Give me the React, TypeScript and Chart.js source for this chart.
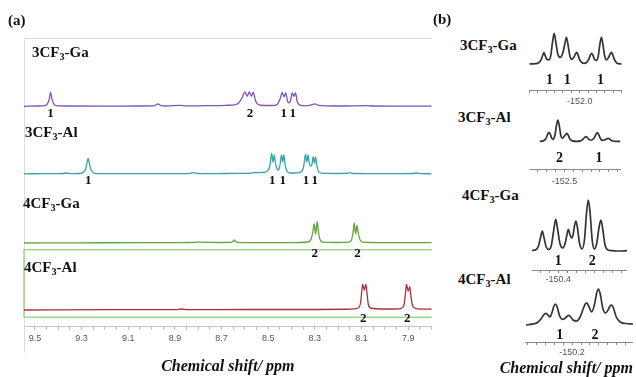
import React, { useEffect, useRef } from 'react';
import { Chart, registerables } from 'chart.js';
Chart.register(...registerables);

type P = [number, number];

// ---------- Panel (a): 1H spectra, [ppm, intensity above own baseline] ----------
const ga3Spectrum: P[] = [
  [9.547, 0], [9.49, 0.3], [9.458, 0.6], [9.447, 2.5], [9.439, 7], [9.433, 14], [9.427, 7], [9.419, 2.5], [9.408, 0.6],
  [9.37, 0.3], [9.2, 0.2], [9.05, 0.3], [8.99, 0.4], [8.981, 1.5], [8.973, 2.5], [8.962, 1], [8.94, 0.3], [8.88, 0.9],
  [8.85, 0.4], [8.76, 0.6], [8.68, 1], [8.645, 1.5], [8.628, 3], [8.612, 8.5], [8.600, 14.5], [8.590, 10], [8.581, 14.5],
  [8.572, 10], [8.564, 14], [8.555, 6], [8.545, 2], [8.52, 0.8], [8.47, 1], [8.458, 3], [8.448, 8], [8.440, 14],
  [8.432, 9.5], [8.425, 13.5], [8.417, 5], [8.411, 3.5], [8.405, 5], [8.397, 13.5], [8.390, 10], [8.383, 13.5],
  [8.376, 5], [8.366, 1.5], [8.34, 0.5], [8.315, 1.5], [8.300, 2.5], [8.285, 1], [8.2, 0.3], [8.075, 0.7],
  [8.055, 0.3], [7.95, 0.2], [7.799, 0.1],
];
const al3Spectrum: P[] = [
  [9.547, 0.2], [9.45, 0.3], [9.38, 0.5], [9.364, 1], [9.345, 0.4], [9.31, 0.5], [9.293, 1.5], [9.283, 5], [9.278, 10],
  [9.272, 15.7], [9.266, 10], [9.261, 5], [9.251, 1.5], [9.235, 0.4], [9.1, 0.3], [8.95, 0.3], [8.84, 0.4], [8.821, 1.3],
  [8.80, 0.4], [8.70, 0.5], [8.62, 0.6], [8.575, 0.8], [8.557, 1.5], [8.535, 1.3], [8.515, 1.8], [8.500, 4], [8.492, 9],
  [8.485, 20.5], [8.4795, 12], [8.474, 19], [8.469, 11], [8.462, 5], [8.458, 4], [8.453, 5.5], [8.448, 11], [8.443, 19],
  [8.438, 12], [8.433, 19], [8.428, 10], [8.420, 3], [8.405, 1], [8.375, 1.2], [8.355, 3], [8.347, 9], [8.340, 19.5],
  [8.3345, 12], [8.329, 19], [8.324, 11], [8.318, 8], [8.312, 10], [8.307, 17.3], [8.302, 11], [8.297, 17], [8.292, 9],
  [8.284, 2.5], [8.27, 0.8], [8.2, 0.5], [8.163, 0.6], [8.150, 1.3], [8.135, 0.5], [8.0, 0.3], [7.88, 0.5], [7.864, 1],
  [7.845, 0.4], [7.799, 0.2],
];
const ga4Spectrum: P[] = [
  [9.547, 0], [9.3, 0.2], [9.0, 0.4], [8.9, 0.3], [8.84, 0.5], [8.80, 0.8], [8.70, 0.5], [8.66, 0.6], [8.652, 1.5],
  [8.646, 3], [8.640, 1.5], [8.63, 0.6], [8.55, 0.3], [8.40, 0.4], [8.33, 1], [8.316, 4], [8.308, 12], [8.303, 19.3],
  [8.2965, 9], [8.290, 21.7], [8.285, 12], [8.277, 3], [8.265, 0.8], [8.2, 0.5], [8.155, 0.8], [8.143, 3], [8.136, 11],
  [8.131, 20], [8.125, 9], [8.119, 17.7], [8.114, 10], [8.106, 3], [8.095, 0.8], [8.0, 0.3], [7.9, 0.4], [7.799, 0.3],
];
const al4Spectrum: P[] = [
  [9.547, 0], [9.2, 0.3], [8.9, 0.4], [8.869, 1], [8.85, 0.4], [8.6, 0.5], [8.3, 0.5], [8.15, 0.8], [8.115, 2],
  [8.105, 6], [8.099, 18], [8.095, 25.7], [8.088, 20], [8.081, 25.7], [8.077, 18], [8.071, 6], [8.061, 2], [8.0, 1],
  [7.94, 1.2], [7.927, 2], [7.917, 6], [7.911, 18], [7.907, 25.7], [7.900, 19], [7.893, 23.3], [7.889, 16], [7.883, 6],
  [7.873, 2], [7.84, 0.8], [7.799, 1],
];

const ga3PeakPpm = [9.433, 8.578, 8.433, 8.395];
const ga3PeakText = ['1', '2', '1', '1'];
const al3PeakPpm = [9.272, 8.483, 8.438, 8.338, 8.300];
const al3PeakText = ['1', '1', '1', '1', '1'];
const ga4PeakPpm = [8.300, 8.117];
const ga4PeakText = ['2', '2'];
const al4PeakPpm = [8.093, 7.904];
const al4PeakText = ['2', '2'];

const mainTickLabels = ['9.5', '9.3', '9.1', '8.9', '8.7', '8.5', '8.3', '8.1', '7.9'];
const seriesNames = ['3CF3-Ga', '3CF3-Al', '4CF3-Ga', '4CF3-Al'];
const axisTitle = 'Chemical shift/ ppm';

// ---------- Panel (b): 19F spectra ----------
const ga3F: P[] = [
  [-151.70, 0.3], [-151.735, 0.6], [-151.755, 1.5], [-151.770, 4.5], [-151.780, 9], [-151.787, 11.6], [-151.794, 9],
  [-151.804, 5], [-151.816, 4.5], [-151.828, 9], [-151.838, 22], [-151.848, 31], [-151.858, 22], [-151.870, 10],
  [-151.884, 7], [-151.899, 11], [-151.911, 20], [-151.921, 27], [-151.931, 19], [-151.942, 8], [-151.952, 5],
  [-151.965, 7], [-151.975, 10.5], [-151.982, 12], [-151.989, 10], [-151.999, 5], [-152.012, 2], [-152.026, 1],
  [-152.042, 2], [-152.055, 5.5], [-152.064, 9.5], [-152.071, 11], [-152.078, 9.5], [-152.088, 5], [-152.100, 4],
  [-152.110, 8], [-152.120, 20], [-152.129, 27], [-152.138, 20], [-152.149, 8], [-152.160, 4.5], [-152.172, 7],
  [-152.182, 10.5], [-152.189, 12], [-152.196, 10], [-152.206, 5], [-152.220, 1.5], [-152.235, 0.5], [-152.25, 0.3],
];
const al3F: P[] = [
  [-152.361, 0.3], [-152.380, 0.8], [-152.395, 3], [-152.406, 7.5], [-152.413, 9.4], [-152.420, 7.5], [-152.430, 3],
  [-152.438, 2.5], [-152.447, 7], [-152.456, 17], [-152.463, 21.7], [-152.470, 17], [-152.480, 6], [-152.488, 3.5],
  [-152.497, 5], [-152.506, 7], [-152.513, 8.4], [-152.520, 7], [-152.530, 3], [-152.545, 0.8], [-152.567, 0.3],
  [-152.590, 0.8], [-152.605, 2.5], [-152.614, 4.3], [-152.621, 5], [-152.628, 4.3], [-152.640, 2], [-152.653, 1.7],
  [-152.668, 4], [-152.678, 7.5], [-152.685, 9], [-152.692, 7.5], [-152.703, 3], [-152.716, 1.2], [-152.730, 2],
  [-152.740, 3], [-152.746, 3.4], [-152.753, 3], [-152.765, 1.2], [-152.785, 0.4], [-152.815, 0.2],
];
const ga4F: P[] = [
  [-150.254, 0.5], [-150.275, 1.2], [-150.290, 5], [-150.302, 14], [-150.311, 20], [-150.320, 14], [-150.333, 4],
  [-150.348, 1.5], [-150.362, 6], [-150.375, 21], [-150.386, 31.7], [-150.397, 21], [-150.410, 7], [-150.426, 3],
  [-150.440, 9], [-150.449, 17], [-150.456, 21.7], [-150.464, 17], [-150.474, 13], [-150.482, 16], [-150.490, 25],
  [-150.498, 30], [-150.506, 24], [-150.518, 8], [-150.532, 2], [-150.546, 12], [-150.557, 38], [-150.567, 51],
  [-150.577, 38], [-150.589, 10], [-150.601, 2], [-150.614, 8], [-150.627, 24], [-150.637, 31], [-150.647, 22],
  [-150.660, 6], [-150.676, 1], [-150.70, 0.3], [-150.74, 0], [-150.782, 0.3],
];
const al4F: P[] = [
  [-149.941, 0], [-149.975, 0.8], [-150.005, 2.5], [-150.025, 6], [-150.040, 10], [-150.052, 11.6], [-150.064, 10],
  [-150.076, 8], [-150.088, 13], [-150.098, 19], [-150.107, 21], [-150.116, 18], [-150.130, 9], [-150.148, 5.5],
  [-150.165, 7.5], [-150.174, 9], [-150.181, 9.6], [-150.190, 8.5], [-150.205, 5], [-150.225, 4], [-150.245, 8],
  [-150.262, 16], [-150.274, 21], [-150.283, 22], [-150.293, 19], [-150.310, 13], [-150.325, 20], [-150.338, 32],
  [-150.348, 36], [-150.358, 31], [-150.372, 17], [-150.388, 12], [-150.402, 15], [-150.413, 19], [-150.422, 20],
  [-150.432, 17], [-150.448, 8], [-150.470, 3], [-150.50, 1.5], [-150.542, 1],
];
const ga3FPeakPpm = [-151.8205, -151.926, -152.124];
const ga3FPeakText = ['1', '1', '1'];
const al3FPeakPpm = [-152.472, -152.694];
const al3FPeakText = ['2', '1'];
const ga4FPeakPpm = [-150.400, -150.589];
const ga4FPeakText = ['1', '2'];
const al4FPeakPpm = [-150.131, -150.329];
const al4FPeakText = ['1', '2'];
const smallTickValues = [-152.0, -152.5, -150.4, -150.2];
const smallTickLabels = ['-152.0', '-152.5', '-150.4', '-150.2'];

// ---------- styling / layout ----------
const SERIF = '"Liberation Serif", "Times New Roman", serif';
const SANS = '"Liberation Sans", Arial, sans-serif';

const mainTraces = [
  { data: ga3Spectrum, color: '#7d52bb', offset: 220.4, labelDy: 7.7, ppm: ga3PeakPpm, text: ga3PeakText },
  { data: al3Spectrum, color: '#33a4a8', offset: 152.7, labelDy: 6.5, ppm: al3PeakPpm, text: al3PeakText },
  { data: ga4Spectrum, color: '#62a43a', offset: 83.7, labelDy: 10.5, ppm: ga4PeakPpm, text: ga4PeakText },
  { data: al4Spectrum, color: '#ab2f3c', offset: 16.7, labelDy: 8.3, ppm: al4PeakPpm, text: al4PeakText },
];

type Lab = { x: number; y: number; text: string };

function peakLabels(items: Lab[], font: string) {
  return {
    id: 'peakLabels',
    afterDatasetsDraw(chart: any) {
      const { ctx, scales } = chart;
      ctx.save();
      ctx.font = font;
      ctx.fillStyle = '#111';
      ctx.textAlign = 'center';
      ctx.textBaseline = 'middle';
      for (const it of items) {
        ctx.fillText(it.text, scales.x.getPixelForValue(it.x), scales.y.getPixelForValue(it.y));
      }
      ctx.restore();
    },
  };
}

function framePlugin(boxLow: number, boxHigh: number) {
  return {
    id: 'frame',
    beforeDatasetsDraw(chart: any) {
      const { ctx, chartArea: a, scales } = chart;
      ctx.save();
      ctx.strokeStyle = '#dcdcdc';
      ctx.lineWidth = 1;
      ctx.beginPath();
      ctx.moveTo(a.left, a.top + 0.5);
      ctx.lineTo(a.right, a.top + 0.5);
      ctx.moveTo(a.left + 0.5, a.top);
      ctx.lineTo(a.left + 0.5, a.bottom + 26);
      ctx.stroke();
      const yt = scales.y.getPixelForValue(boxHigh);
      const yb = scales.y.getPixelForValue(boxLow);
      ctx.strokeStyle = '#9fd68e';
      ctx.lineWidth = 1.5;
      ctx.beginPath();
      ctx.moveTo(a.right, yt);
      ctx.lineTo(a.left, yt);
      ctx.lineTo(a.left, yb);
      ctx.lineTo(a.right, yb);
      ctx.stroke();
      ctx.restore();
    },
  };
}

const onStep = (scale: any) => {
  scale.ticks = scale.ticks.filter((t: any) => Math.abs(t.value / 0.05 - Math.round(t.value / 0.05)) < 1e-4);
};

function mainConfig(): any {
  const labels: Lab[] = [];
  mainTraces.forEach((t) => t.ppm.forEach((p, i) => labels.push({ x: p, y: t.offset - t.labelDy, text: t.text[i] })));
  return {
    type: 'line',
    data: {
      datasets: mainTraces.map((t) => ({
        data: t.data.map(([x, y]) => ({ x, y: y + t.offset })),
        borderColor: t.color,
        borderWidth: 1.3,
        pointRadius: 0,
        fill: false,
        cubicInterpolationMode: 'monotone',
      })),
    },
    options: {
      responsive: false,
      animation: false,
      devicePixelRatio: 1,
      layout: { padding: { left: 24, right: 8.3, top: 38, bottom: 1 } },
      plugins: { legend: { display: false }, tooltip: { enabled: false } },
      scales: {
        x: {
          type: 'linear',
          reverse: true,
          min: 7.799,
          max: 9.547,
          afterFit: (s: any) => { s.height = 49.3; },
          afterBuildTicks: onStep,
          grid: { display: true, drawOnChartArea: false, tickLength: 3, color: '#b8b8b8' },
          border: { display: true, color: '#c4c4c4', width: 1 },
          ticks: {
            stepSize: 0.05,
            includeBounds: false,
            autoSkip: false,
            maxRotation: 0,
            minRotation: 0,
            padding: 3,
            color: '#555',
            font: { family: SANS, size: 9 },
            callback: (v: number) => mainTickLabels.find((l) => Math.abs(parseFloat(l) - v) < 1e-6) ?? '',
          },
          title: {
            display: true,
            text: axisTitle,
            color: '#111',
            font: { family: SERIF, size: 16, weight: 'bold', style: 'italic' },
            padding: { top: 0, bottom: 0 },
          },
        },
        y: { display: false, min: 0, max: 288.7 },
      },
    },
    plugins: [framePlugin(9.4, 77), peakLabels(labels, `bold 13px ${SERIF}`)],
  };
}

const smallPlots = [
  { data: ga3F, ppm: ga3FPeakPpm, text: ga3FPeakText, labelDy: 15.7, left: 526, top: 25, width: 99, h: 65,
    xMin: -152.25, xMax: -151.70, yMin: -25.7, tickPad: 3.3 },
  { data: al3F, ppm: al3FPeakPpm, text: al3FPeakText, labelDy: 16.6, left: 530, top: 115, width: 92, h: 54,
    xMin: -152.817, xMax: -152.306, yMin: -27.3, tickPad: 4.3 },
  { data: ga4F, ppm: ga4FPeakPpm, text: ga4FPeakText, labelDy: 10.7, left: 532, top: 195, width: 95, h: 75,
    xMin: -150.782, xMax: -150.254, yMin: -19, tickPad: 1 },
  { data: al4F, ppm: al4FPeakPpm, text: al4FPeakText, labelDy: 10, left: 525, top: 280, width: 108, h: 62,
    xMin: -150.542, xMax: -149.941, yMin: -17, tickPad: 2.6 },
];
const AXIS_H = 22;

function smallConfig(sp: any, i: number): any {
  const labels: Lab[] = sp.ppm.map((p: number, k: number) => ({ x: p, y: -sp.labelDy, text: sp.text[k] }));
  return {
    type: 'line',
    data: {
      datasets: [{
        data: sp.data.map(([x, y]: P) => ({ x, y })),
        borderColor: '#333',
        borderWidth: 1.7,
        pointRadius: 0,
        fill: false,
        cubicInterpolationMode: 'monotone',
      }],
    },
    options: {
      responsive: false,
      animation: false,
      devicePixelRatio: 1,
      layout: { padding: 0 },
      plugins: { legend: { display: false }, tooltip: { enabled: false } },
      scales: {
        x: {
          type: 'linear',
          reverse: true,
          min: sp.xMin,
          max: sp.xMax,
          afterFit: (s: any) => { s.height = AXIS_H; },
          afterBuildTicks: onStep,
          grid: { display: true, drawOnChartArea: false, tickLength: 3, color: '#8a8a8a' },
          border: { display: true, color: '#888', width: 1 },
          ticks: {
            stepSize: 0.05,
            includeBounds: false,
            autoSkip: false,
            maxRotation: 0,
            minRotation: 0,
            padding: sp.tickPad,
            color: '#555',
            font: { family: SANS, size: 9 },
            callback: (v: number) => (Math.abs(v - smallTickValues[i]) < 1e-6 ? smallTickLabels[i] : ''),
          },
        },
        y: { display: false, min: sp.yMin, max: sp.yMin + sp.h },
      },
    },
    plugins: [peakLabels(labels, `bold 14px ${SERIF}`)],
  };
}

function Name({ name }: { name: string }) {
  const m = name.match(/^(\dCF)(\d)(-.*)$/);
  if (!m) return <>{name}</>;
  return (
    <>
      {m[1]}
      <span style={{ fontSize: '0.68em', position: 'relative', top: '0.3em' }}>{m[2]}</span>
      {m[3]}
    </>
  );
}

function Label({ left, cy, size, children, italic }: { left: number; cy: number; size: number; children: any; italic?: boolean }) {
  return (
    <div
      style={{
        position: 'absolute', left, top: cy - size / 2, fontSize: size, lineHeight: `${size}px`,
        fontFamily: SERIF, fontWeight: 'bold', fontStyle: italic ? 'italic' : 'normal', color: '#111', whiteSpace: 'nowrap',
      }}
    >
      {children}
    </div>
  );
}

const nameSpotsA = [{ left: 32, cy: 52 }, { left: 25, cy: 132 }, { left: 23, cy: 203 }, { left: 24, cy: 267 }];
const nameSpotsB = [{ left: 460, cy: 45 }, { left: 458, cy: 117 }, { left: 462, cy: 195 }, { left: 458, cy: 279 }];

export default function App() {
  const mainRef = useRef<HTMLCanvasElement>(null);
  const r0 = useRef<HTMLCanvasElement>(null);
  const r1 = useRef<HTMLCanvasElement>(null);
  const r2 = useRef<HTMLCanvasElement>(null);
  const r3 = useRef<HTMLCanvasElement>(null);
  const smallRefs = [r0, r1, r2, r3];

  useEffect(() => {
    const charts: Chart[] = [];
    if (mainRef.current) charts.push(new Chart(mainRef.current, mainConfig()));
    smallPlots.forEach((sp, i) => {
      const c = smallRefs[i].current;
      if (c) charts.push(new Chart(c, smallConfig(sp, i)));
    });
    return () => charts.forEach((c) => c.destroy());
  }, []);

  return (
    <div style={{ position: 'fixed', left: 0, top: 0, width: 636, height: 377, background: '#fff', overflow: 'hidden' }}>
      <canvas ref={mainRef} width={440} height={377} style={{ position: 'absolute', left: 0, top: 0, width: 440, height: 377 }} />
      {smallPlots.map((sp, i) => (
        <canvas
          key={i}
          ref={smallRefs[i]}
          width={sp.width}
          height={sp.h + AXIS_H}
          style={{ position: 'absolute', left: sp.left, top: sp.top, width: sp.width, height: sp.h + AXIS_H }}
        />
      ))}
      <Label left={8} cy={20} size={15}>(a)</Label>
      <Label left={433} cy={19} size={15}>(b)</Label>
      {seriesNames.map((n, i) => (
        <Label key={'a' + i} left={nameSpotsA[i].left} cy={nameSpotsA[i].cy} size={15}><Name name={n} /></Label>
      ))}
      {seriesNames.map((n, i) => (
        <Label key={'b' + i} left={nameSpotsB[i].left} cy={nameSpotsB[i].cy} size={15}><Name name={n} /></Label>
      ))}
      <div
        style={{
          position: 'absolute', right: 3, top: 368 - 8, fontSize: 16, lineHeight: '16px', fontFamily: SERIF,
          fontWeight: 'bold', fontStyle: 'italic', color: '#111', whiteSpace: 'nowrap',
        }}
      >
        {axisTitle}
      </div>
    </div>
  );
}
